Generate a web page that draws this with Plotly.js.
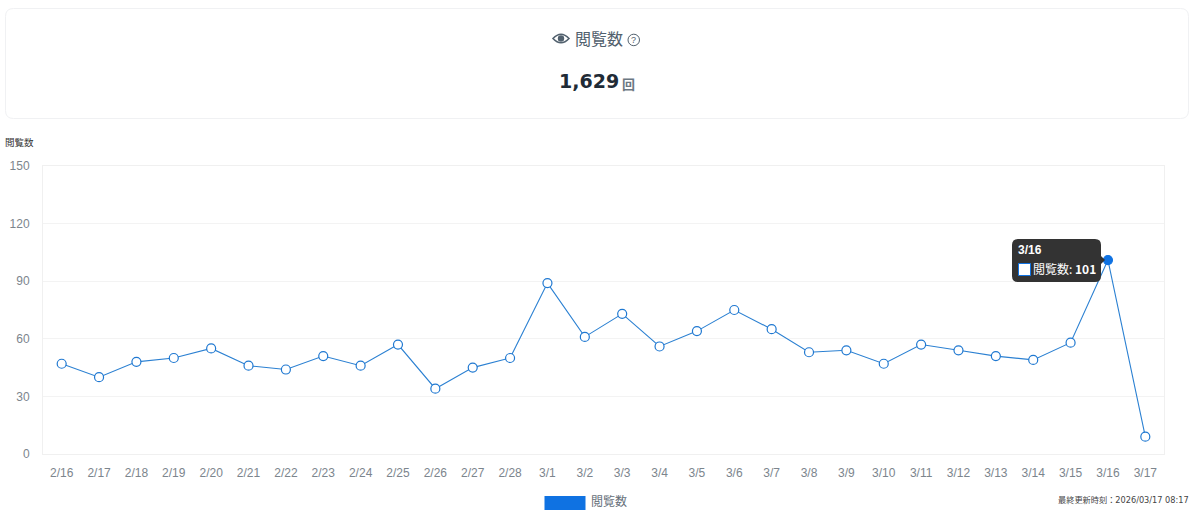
<!DOCTYPE html>
<html><head><meta charset="utf-8">
<script src="https://cdn.plot.ly/plotly-3.0.1.min.js"></script>
<style>html,body{margin:0;padding:0;background:#fff;overflow:hidden}#c{width:1204px;height:521px}</style>
</head><body><div id="c"></div>
<script>
const categories = ["2/16","2/17","2/18","2/19","2/20","2/21","2/22","2/23","2/24","2/25","2/26","2/27","2/28","3/1","3/2","3/3","3/4","3/5","3/6","3/7","3/8","3/9","3/10","3/11","3/12","3/13","3/14","3/15","3/16","3/17"];
const views = [47,40,48,50,55,46,44,51,46,57,34,45,50,89,61,73,56,64,75,65,53,54,47,57,54,51,49,58,101,9];
const yTicks = [0,30,60,90,120,150];
const seriesName = "閲覧数";
const activeCategory = "3/16";
const total = "1,629";
const updated = "最終更新時刻：2026/03/17 08:17";

const W=1204,H=521,L=43,R=1164,T=166,B=454;
const CJK='"Noto Sans CJK JP","Liberation Sans",sans-serif';
const LAT='"Liberation Sans",Arial,sans-serif';
const px=x=>(x-L)/(R-L), py=y=>(B-y)/(B-T);
const P=(x,y)=>px(x)+' '+py(y);
function rr(x0,y0,x1,y1,r){return 'M'+P(x0+r,y0)+' L'+P(x1-r,y0)+' Q'+P(x1,y0)+' '+P(x1,y0+r)+' L'+P(x1,y1-r)+' Q'+P(x1,y1)+' '+P(x1-r,y1)+' L'+P(x0+r,y1)+' Q'+P(x0,y1)+' '+P(x0,y1-r)+' L'+P(x0,y0+r)+' Q'+P(x0,y0)+' '+P(x0+r,y0)+' Z';}
const pathShape=(path,fill,line,w,layer)=>({type:'path',xref:'paper',yref:'paper',path,fillcolor:fill,line:{color:line,width:w},layer:layer||'above'});
const ann=(x,y,text,size,color,anchor,font,bold)=>({xref:'paper',yref:'paper',x:px(x),y:py(y),text:bold?'<b>'+text+'</b>':text,showarrow:false,xanchor:anchor||'left',yanchor:'middle',font:{size,color,family:font||CJK},borderpad:0,borderwidth:0});

const blue='#0f72e2', lineBlue='#2b80d2', dark='#333333';
const active=categories.indexOf(activeCategory);

const trace={type:'scatter',mode:'lines+markers',x:categories,y:views,name:seriesName,
  line:{color:lineBlue,width:1.1},
  marker:{size:9,opacity:1,color:categories.map((c,i)=>i===active?blue:'#ffffff'),line:{color:categories.map((c,i)=>i===active?blue:'#1f78d1'),width:1.2}},
  cliponaxis:false,hoverinfo:'skip'};

const shapes=[
  pathShape(rr(5.5,8.5,1188.5,118.5,8),'#fff','#f0f1f3',1,'below'),
  pathShape('M'+P(553,38.5)+' Q'+P(561,30)+' '+P(569,38.5)+' Q'+P(561,47)+' '+P(553,38.5)+' Z','rgba(0,0,0,0)','#52616e',1.6),
  {type:'circle',xref:'paper',yref:'paper',x0:px(557.8),x1:px(564.2),y0:py(41.7),y1:py(35.3),fillcolor:'#52616e',line:{width:0}},
  {type:'circle',xref:'paper',yref:'paper',x0:px(628),x1:px(639.5),y0:py(45.7),y1:py(34.2),fillcolor:'rgba(0,0,0,0)',line:{color:'#52616e',width:1}},
  {type:'rect',xref:'paper',yref:'paper',x0:px(544.5),x1:px(585.5),y0:py(510),y1:py(496),fillcolor:blue,line:{width:0}},
  pathShape(rr(1012,239,1101,282,6),dark,dark,0),
  pathShape('M'+P(1100,255)+' L'+P(1105,260)+' L'+P(1100,265)+' Z',dark,dark,0),
  {type:'rect',xref:'paper',yref:'paper',x0:px(1018.5),x1:px(1030.5),y0:py(275.5),y1:py(263.5),fillcolor:'#fff',line:{color:blue,width:1}}
];

const annotations=[
  ann(575,37.5,seriesName,16,'#52616e'),
  ann(633.8,40,'?',9,'#52616e','center',LAT),
  ann(558.5,81,total,19,'#212b36','left','"DejaVu Sans",sans-serif',true),
  ann(622,83,'回',13,'#6b7782','left',CJK,true),
  ann(5,142,seriesName,9.5,'#333'),
  ann(591,500.5,seriesName,12,'#66707a'),
  ann(1189,499.5,updated,8.2,'#444','right','"DejaVu Sans","Noto Sans CJK JP",sans-serif'),
  ann(1018,249.5,activeCategory,12,'#fff','left',LAT,true),
  ann(1033,268.5,seriesName+': <b>'+views[active]+'</b>',12,'#fff')
];

Plotly.newPlot('c',[trace],{
  width:W,height:H,margin:{l:L,r:W-R,t:T,b:H-B,pad:0},
  paper_bgcolor:'#fff',plot_bgcolor:'#fff',showlegend:false,
  font:{family:LAT,size:12,color:'#7c858d'},
  xaxis:{type:'category',categoryorder:'array',categoryarray:categories,range:[-0.5,categories.length-0.5],showgrid:false,showline:true,linecolor:'#f0f0f0',linewidth:1,mirror:true,zeroline:false,ticks:'',ticklen:0,tickangle:0,tickfont:{size:12,color:'#7c858d',family:LAT},ticklabelstandoff:8},
  yaxis:{range:[0,150],tickmode:'array',tickvals:yTicks,ticktext:yTicks.map(String),showgrid:true,gridcolor:'#f3f3f3',gridwidth:1,showline:true,linecolor:'#f0f0f0',linewidth:1,mirror:true,zeroline:false,ticks:'',tickfont:{size:12,color:'#7c858d',family:LAT},ticklabelstandoff:10},
  shapes,annotations
},{displayModeBar:false,staticPlot:true});
</script></body></html>
